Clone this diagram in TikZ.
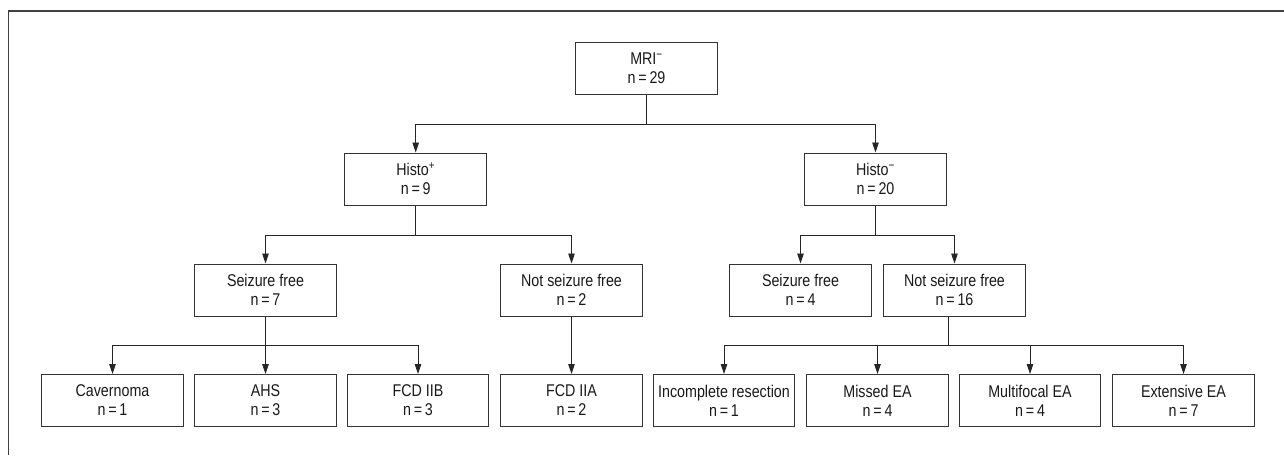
\documentclass[tikz,border=0pt]{standalone}
\usepackage{fontspec}
\setmainfont[FakeStretch=0.84]{Liberation Sans}
\usetikzlibrary{arrows.meta}
\begin{document}
\begin{tikzpicture}[x=1pt,y=-1pt,
  box/.style={draw=black!80, line width=1pt, minimum width=141.5pt, minimum height=52pt,
    inner sep=0pt, align=center, font=\fontsize{17}{19}\selectfont, text=black!90},
  conn/.style={draw=black!85, line width=0.9pt},
  arr/.style={conn, -{Triangle[length=10pt,width=6.5pt]}}]
\useasboundingbox (0,0) rectangle (1284,455);
\draw[line width=1.3pt, black!75] (8.5,455) -- (8.5,11) -- (1284,11);

\node[box] (mri)  at (646.5,68.5) {MRI\textsuperscript{−}\\n\,=\,29};
\node[box] (hp)   at (415.7,179) {Histo\textsuperscript{+}\\n\,=\,9};
\node[box] (hm)   at (875.5,179) {Histo\textsuperscript{−}\\n\,=\,20};
\node[box] (sf1)  at (265.5,290) {Seizure free\\n\,=\,7};
\node[box] (nsf1) at (571.5,290) {Not seizure free\\n\,=\,2};
\node[box] (sf2)  at (800.5,290) {Seizure free\\n\,=\,4};
\node[box] (nsf2) at (954.5,290) {Not seizure free\\n\,=\,16};
\node[box] (cav)  at (112.5,400.5) {Cavernoma\\n\,=\,1};
\node[box] (ahs)  at (265.5,400.5) {AHS\\n\,=\,3};
\node[box] (fcdb) at (418,400.5) {FCD IIB\\n\,=\,3};
\node[box] (fcda) at (571.5,400.5) {FCD IIA\\n\,=\,2};
\node[box] (inc)  at (724,400.5) {Incomplete resection\\n\,=\,1};
\node[box] (mis)  at (877.5,400.5) {Missed EA\\n\,=\,4};
\node[box] (mul)  at (1030,400.5) {Multifocal EA\\n\,=\,4};
\node[box] (ext)  at (1183.5,400.5) {Extensive EA\\n\,=\,7};

\coordinate (j1) at (646.5,124);
\draw[conn] (mri.south) -- (j1);
\draw[arr] (j1) -| (hp.north);
\draw[arr] (j1) -| (hm.north);

\coordinate (j2) at (415.7,235);
\draw[conn] (hp.south) -- (j2);
\draw[arr] (j2) -| (sf1.north);
\draw[arr] (j2) -| (nsf1.north);

\coordinate (j3) at (875.5,235);
\draw[conn] (hm.south) -- (j3);
\draw[arr] (j3) -| (sf2.north);
\draw[arr] (j3) -| (nsf2.north);

\coordinate (j4) at (265.5,345);
\draw[conn] (sf1.south) -- (j4);
\draw[arr] (j4) -| (cav.north);
\draw[arr] (j4) -- (ahs.north);
\draw[arr] (j4) -| (fcdb.north);

\draw[arr] (nsf1.south) -- (fcda.north);

\coordinate (j5) at (948.5,345);
\draw[conn] (nsf2.south -| j5) -- (j5);
\draw[arr] (j5) -| (inc.north);
\draw[arr] (j5) -| (mis.north);
\draw[arr] (j5) -| (mul.north);
\draw[arr] (j5) -| (ext.north);
\end{tikzpicture}
\end{document}
